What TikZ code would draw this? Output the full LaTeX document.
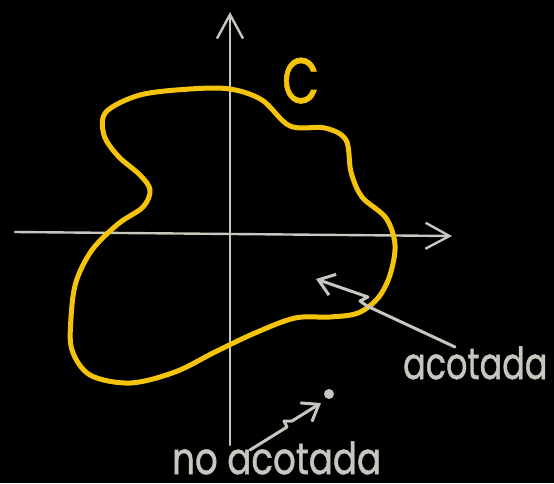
\documentclass[tikz,border=0pt]{standalone}
\usepackage{fontspec}
\setmainfont{Poppins}
\newfontfamily\hand{Poppins}[FakeBold=1.2]
\usetikzlibrary{arrows.meta}
\definecolor{chalk}{RGB}{200,198,190}
\definecolor{curvey}{RGB}{245,196,10}
\tikzset{
  axisline/.style={draw=chalk,line width=2.4pt,line cap=round,line join=round,-{Straight Barb[length=24pt,width=26pt,line width=2.4pt]}},
  pointer/.style={draw=chalk,line width=3pt,line cap=round,line join=round,-{Straight Barb[length=15pt,width=22pt,line width=3pt]}},
  label/.style={text=chalk,font=\hand\fontsize{44}{44}\selectfont,inner sep=0pt,anchor=base west},
}
\begin{document}
\begin{tikzpicture}[x=1pt,y=-1pt]
\fill[black] (0,0) rectangle (554,483);
\useasboundingbox (0,0) rectangle (554,483);
% axes
\coordinate (xs) at (15,232);
\coordinate (xe) at (452,236);
\coordinate (ys) at (230,445);
\coordinate (ye) at (230,12);
\draw[axisline] (xs) -- (xe);
\draw[axisline] (ys) -- (ye);
% curve
\draw[curvey,line width=5pt] plot[smooth cycle,tension=0.55] coordinates {
 (106,112) (140,95) (190,89) (230,89) (262,100) (290,126) (325,128) (346,140)
 (351,172) (362,197) (386,218) (395,245) (390,275) (378,298) (358,313) (330,317)
 (295,318) (255,333) (215,352) (175,372) (130,383) (90,375) (72,350) (71,318)
 (76,282) (92,250) (118,224) (143,207) (150,190) (140,175) (118,156) (104,135)};
% C label
\node[text=curvey,font=\hand\fontsize{64}{64}\selectfont,inner sep=0pt,anchor=base west,xscale=0.75] (C) at (282,103) {C};
% acotada
\node[label,xscale=0.76] (acot) at (403,379) {acotada};
\coordinate (a1) at (455,347);
\coordinate (a2) at (367,306);
\coordinate (a3) at (360,301);
\coordinate (a4) at (368,297);
\coordinate (at) at (316,279);
\draw[pointer] (a1) -- (a2) -- (a3) -- (a4) -- (at);
% no acotada
\node[label,xscale=0.81] (noacot) at (172,474) {no acotada};
\coordinate (b1) at (250,450);
\coordinate (b2) at (287,427);
\coordinate (b3) at (284,421);
\coordinate (b4) at (292,421);
\coordinate (bt) at (321,403);
\draw[pointer] (b1) -- (b2) -- (b3) -- (b4) -- (bt);
\fill[chalk] (329,394) circle (5pt) coordinate (dot);
\end{tikzpicture}
\end{document}
